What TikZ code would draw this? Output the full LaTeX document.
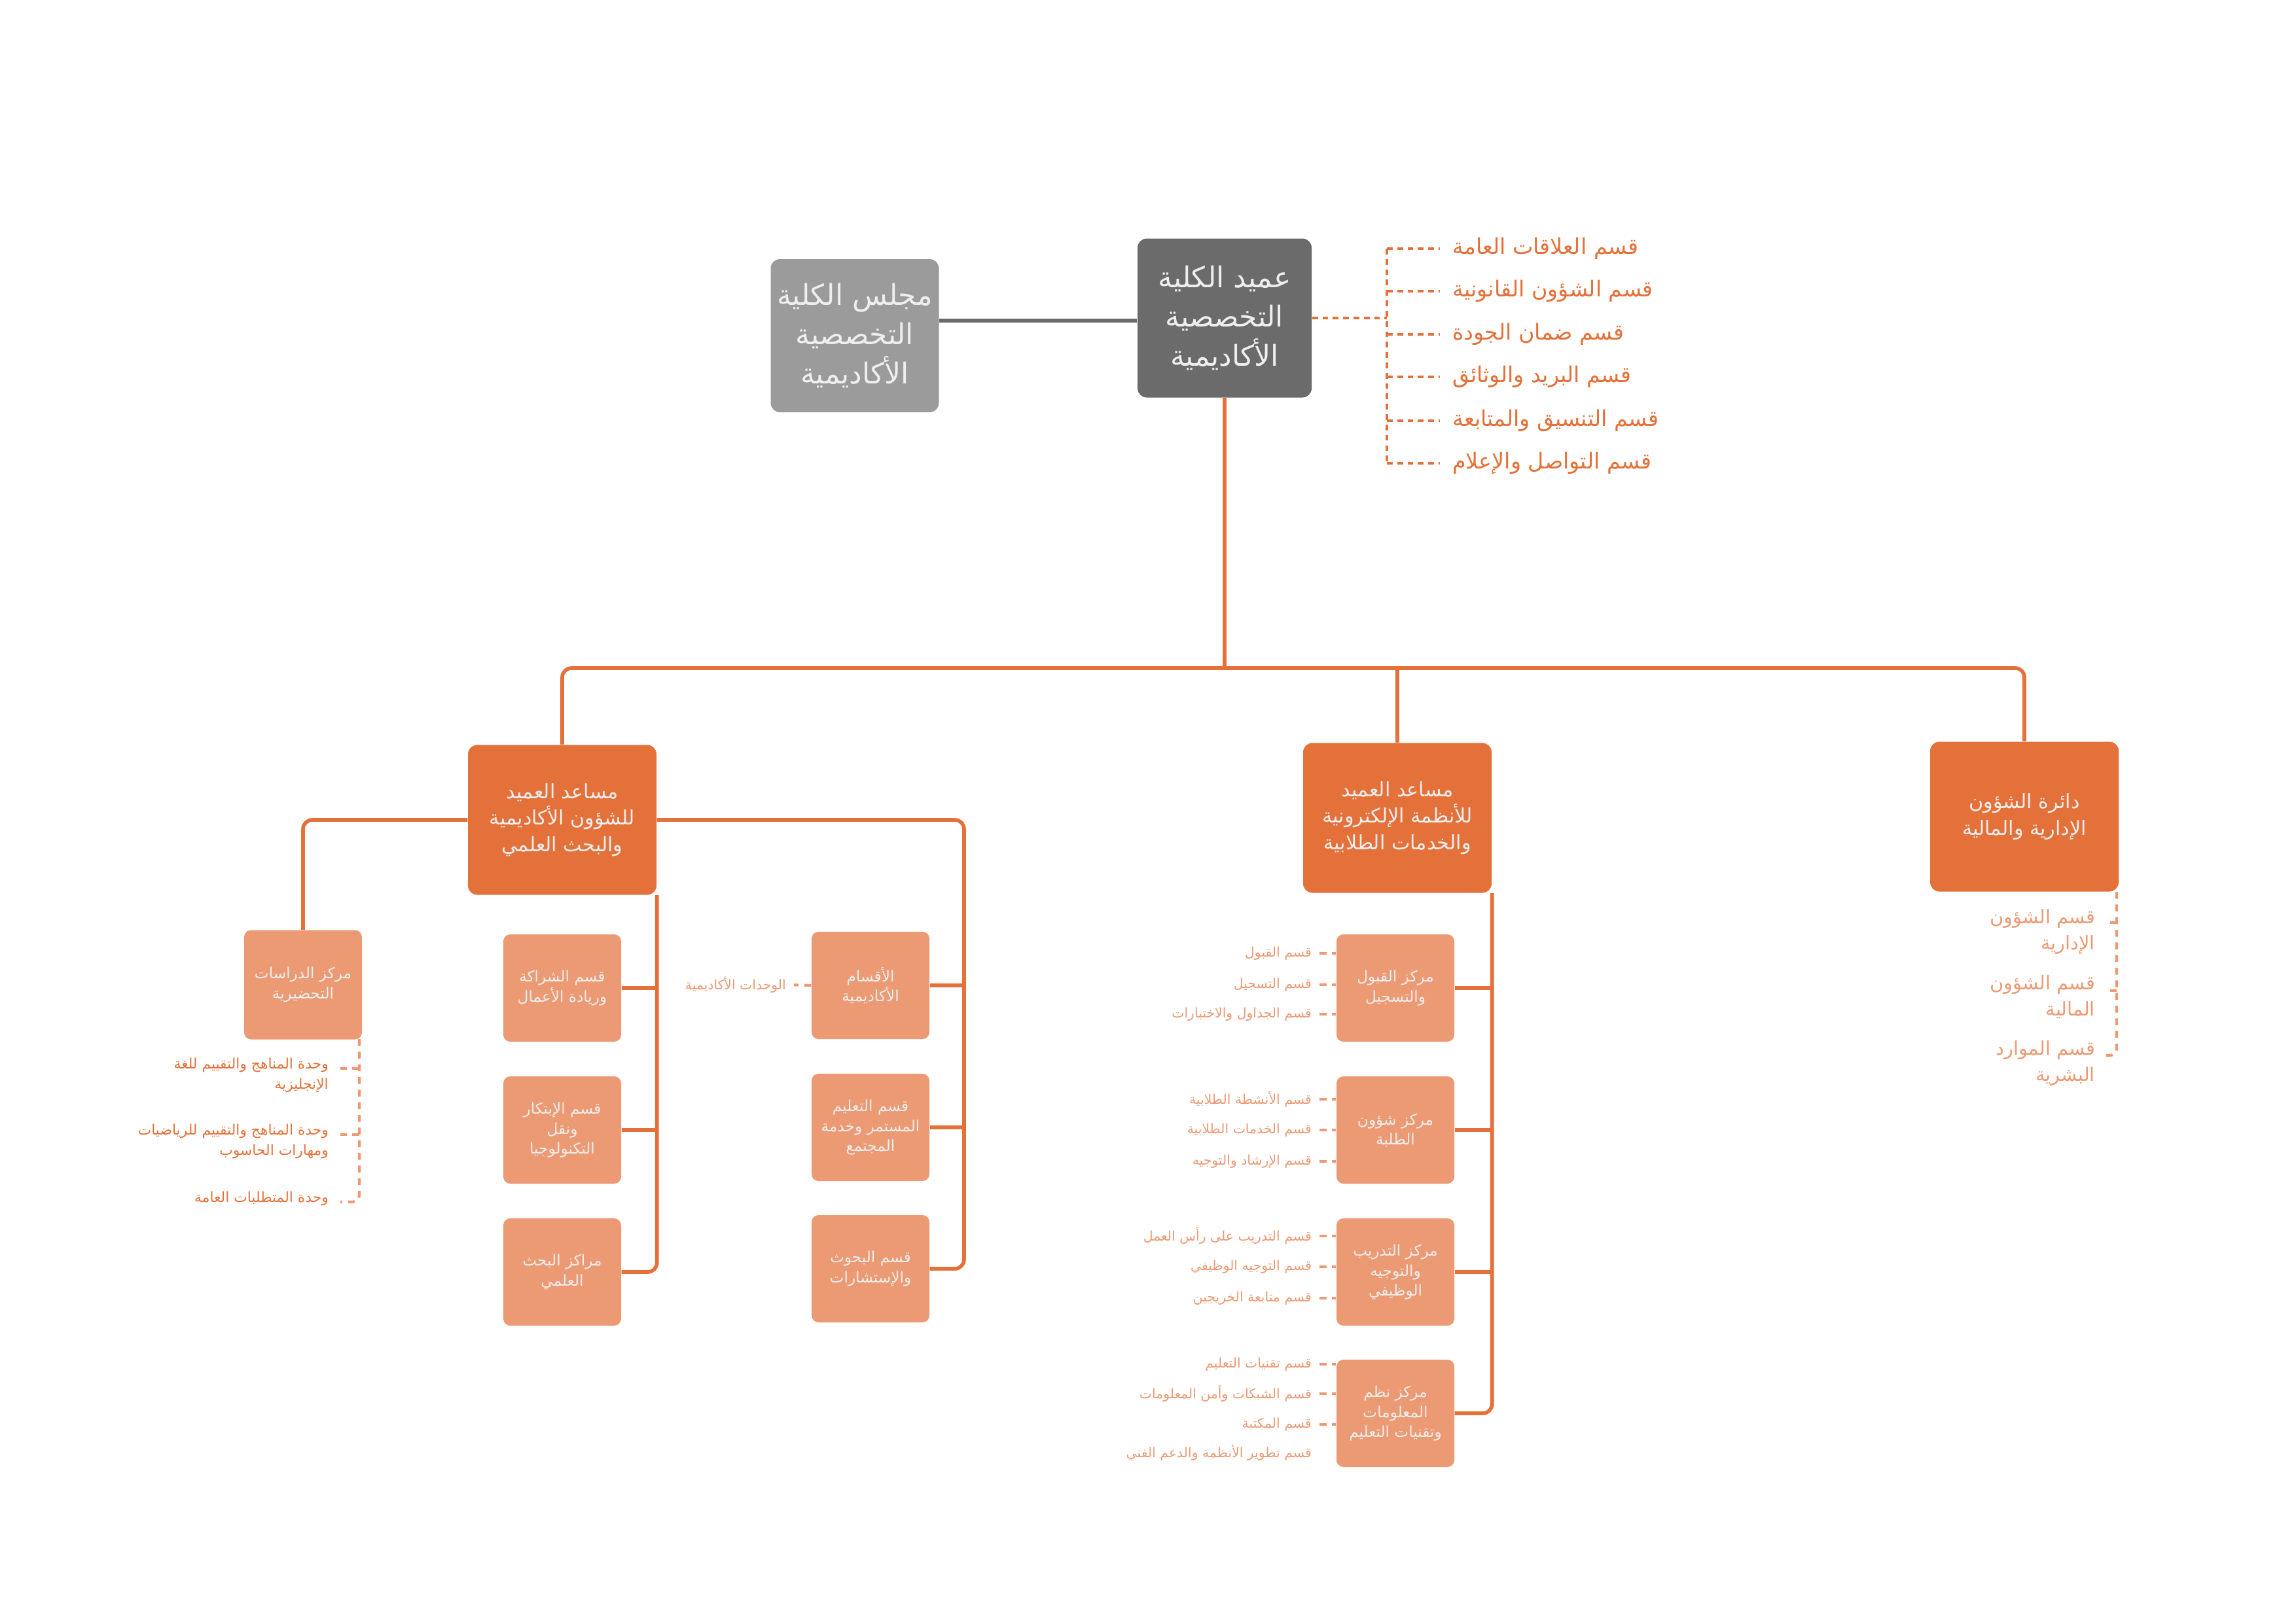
\documentclass[tikz,border=0pt]{standalone}
\usepackage{fontspec}
\newfontfamily\arabicfont[Script=Arabic]{DejaVu Sans}
\TeXXeTstate=1
\newcommand{\ar}[1]{{\arabicfont\beginR #1\endR}}
\definecolor{darkor}{HTML}{E4713A}
\definecolor{lightor}{HTML}{EC9A74}
\definecolor{darkgr}{HTML}{6B6B6B}
\definecolor{lightgr}{HTML}{9B9B9B}
\definecolor{boxtext}{HTML}{EEEEEE}
\tikzset{
  topbox/.style={rounded corners=4pt, text=boxtext, align=center, inner sep=2pt, font=\fontsize{12.5}{17}\selectfont},
  asstbox/.style={rounded corners=4pt, fill=darkor, text=boxtext, align=center, minimum width=2.88cm, minimum height=2.29cm, font=\fontsize{8.6}{11.5}\selectfont},
  unitbox/.style={rounded corners=3pt, fill=lightor, text=boxtext, align=center, minimum width=1.8cm, minimum height=1.64cm, inner sep=1pt, font=\fontsize{6.6}{8.6}\selectfont},
  link/.style={draw=darkor, line width=1.6pt},
  dotlink/.style={draw=darkor, line width=1.4pt, dash pattern=on 2.5pt off 2pt},
  dashlink/.style={draw=lightor, line width=1.2pt, dash pattern=on 3pt off 2.5pt},
  deanitem/.style={text=darkor, anchor=west, inner sep=1pt, font=\fontsize{9.5}{12}\selectfont},
  subitem/.style={text=lightor, anchor=east, inner sep=1pt, font=\fontsize{5.8}{7.5}\selectfont},
  previtem/.style={text=darkor, anchor=north east, align=right, inner sep=1pt, font=\fontsize{6.2}{8.6}\selectfont},
  admitem/.style={text=lightor, anchor=north east, align=right, inner sep=1pt, font=\fontsize{8.2}{11.5}\selectfont},
}
\begin{document}
\begin{tikzpicture}
\useasboundingbox (0,0) rectangle (35.08,-24.81);

% top level
\node[topbox, fill=lightgr, minimum width=2.57cm, minimum height=2.34cm] (council) at (13.06,-5.13)
  {\ar{مجلس الكلية}\\\ar{التخصصية}\\\ar{الأكاديمية}};
\node[topbox, fill=darkgr, minimum width=2.66cm, minimum height=2.43cm] (dean) at (18.71,-4.86)
  {\ar{عميد الكلية}\\\ar{التخصصية}\\\ar{الأكاديمية}};
\draw[draw=darkgr, line width=1.6pt] (council.east |- 0,-4.90) -- (dean.west |- 0,-4.90);

% dean sections
\coordinate (dbr) at (21.19,-4.86);
\node[deanitem] (ds1) at (22.15,-3.80) {\ar{قسم العلاقات العامة}};
\node[deanitem] (ds2) at (22.15,-4.45) {\ar{قسم الشؤون القانونية}};
\node[deanitem] (ds3) at (22.15,-5.11) {\ar{قسم ضمان الجودة}};
\node[deanitem] (ds4) at (22.15,-5.76) {\ar{قسم البريد والوثائق}};
\node[deanitem] (ds5) at (22.15,-6.43) {\ar{قسم التنسيق والمتابعة}};
\node[deanitem] (ds6) at (22.15,-7.08) {\ar{قسم التواصل والإعلام}};
\draw[dotlink] (dean.east) -- (dbr);
\draw[dotlink] (dbr |- ds1) -- (dbr |- ds6);
\foreach \i in {1,...,6}
  \draw[dotlink, shorten >=0.15cm] (dbr |- ds\i) -- (ds\i.west);

% second level
\node[asstbox] (ad1) at (8.59,-12.53)
  {\ar{مساعد العميد}\\\ar{للشؤون الأكاديمية}\\\ar{والبحث العلمي}};
\node[asstbox] (ad2) at (21.35,-12.50)
  {\ar{مساعد العميد}\\\ar{للأنظمة الإلكترونية}\\\ar{والخدمات الطلابية}};
\node[asstbox] (adm) at (30.93,-12.48)
  {\ar{دائرة الشؤون}\\\ar{الإدارية والمالية}};
\coordinate (bus) at (18.71,-10.21);
\draw[link] (dean.south) -- (bus);
\draw[link, rounded corners=4pt] (ad1.north) |- (bus) -| (adm.north);
\draw[link] (ad2.north) -- (ad2.north |- bus);

% academic affairs
\node[unitbox, minimum height=1.67cm] (prep) at (4.63,-15.05) {\ar{مركز الدراسات}\\\ar{التحضيرية}};
\node[unitbox] (lb1) at (8.59,-15.10) {\ar{قسم الشراكة}\\\ar{وريادة الأعمال}};
\node[unitbox] (lb2) at (8.59,-17.27) {\ar{قسم الإبتكار}\\\ar{ونقل}\\\ar{التكنولوجيا}};
\node[unitbox] (lb3) at (8.59,-19.44) {\ar{مراكز البحث}\\\ar{العلمي}};
\node[unitbox] (rb1) at (13.30,-15.06) {\ar{الأقسام}\\\ar{الأكاديمية}};
\node[unitbox] (rb2) at (13.30,-17.23) {\ar{قسم التعليم}\\\ar{المستمر وخدمة}\\\ar{المجتمع}};
\node[unitbox] (rb3) at (13.30,-19.39) {\ar{قسم البحوث}\\\ar{والإستشارات}};
\draw[link, rounded corners=4pt] (ad1.west) -| (prep.north);
\draw[link, rounded corners=4pt] (ad1.south east) |- (lb3.east);
\foreach \b in {lb1,lb2}
  \draw[link] (\b.east) -- (\b.east -| ad1.east);
\coordinate (rtr) at (14.73,-12.53);
\draw[link, rounded corners=4pt] (ad1.east) -- (rtr) |- (rb3.east);
\foreach \b in {rb1,rb2}
  \draw[link] (\b.east) -- (\b.east -| rtr);
\node[subitem] (unit) at (12.05,-15.05) {\ar{الوحدات الأكاديمية}};
\draw[dashlink, shorten >=0.08cm] (rb1.west) -- (unit.east);

% preparatory units
\coordinate (pbr) at (5.49,-15.88);
\node[previtem] (pu1) at (5.06,-16.13) {\ar{وحدة المناهج والتقييم للغة}\\\ar{الإنجليزية}};
\node[previtem] (pu2) at (5.06,-17.14) {\ar{وحدة المناهج والتقييم للرياضيات}\\\ar{ومهارات الحاسوب}};
\node[previtem] (pu3) at (5.06,-18.17) {\ar{وحدة المتطلبات العامة}};
\draw[dashlink, rounded corners=3pt] (pbr) -- (pbr |- 0,-18.37) -- (5.20,-18.37);
\draw[dashlink] (pbr |- 0,-16.33) -- (5.20,-16.33);
\draw[dashlink] (pbr |- 0,-17.34) -- (5.20,-17.34);

% student services
\node[unitbox] (mb1) at (21.32,-15.10) {\ar{مركز القبول}\\\ar{والتسجيل}};
\node[unitbox] (mb2) at (21.32,-17.27) {\ar{مركز شؤون}\\\ar{الطلبة}};
\node[unitbox] (mb3) at (21.32,-19.44) {\ar{مركز التدريب}\\\ar{والتوجيه}\\\ar{الوظيفي}};
\node[unitbox] (mb4) at (21.32,-21.60) {\ar{مركز نظم}\\\ar{المعلومات}\\\ar{وتقنيات التعليم}};
\draw[link, rounded corners=4pt] (ad2.south east) |- (mb4.east);
\foreach \b in {mb1,mb2,mb3}
  \draw[link] (\b.east) -- (\b.east -| ad2.east);

\node[subitem] (s11) at (20.08,-14.57) {\ar{قسم القبول}};
\node[subitem] (s12) at (20.08,-15.05) {\ar{قسم التسجيل}};
\node[subitem] (s13) at (20.08,-15.50) {\ar{قسم الجداول والاختبارات}};
\node[subitem] (s21) at (20.08,-16.80) {\ar{قسم الأنشطة الطلابية}};
\node[subitem] (s22) at (20.08,-17.27) {\ar{قسم الخدمات الطلابية}};
\node[subitem] (s23) at (20.08,-17.75) {\ar{قسم الإرشاد والتوجيه}};
\node[subitem] (s31) at (20.08,-18.89) {\ar{قسم التدريب على رأس العمل}};
\node[subitem] (s32) at (20.08,-19.36) {\ar{قسم التوجيه الوظيفي}};
\node[subitem] (s33) at (20.08,-19.84) {\ar{قسم متابعة الخريجين}};
\node[subitem] (s41) at (20.08,-20.85) {\ar{قسم تقنيات التعليم}};
\node[subitem] (s42) at (20.08,-21.30) {\ar{قسم الشبكات وأمن المعلومات}};
\node[subitem] (s43) at (20.08,-21.77) {\ar{قسم المكتبة}};
\node[subitem] (s44) at (20.08,-22.20) {\ar{قسم تطوير الأنظمة والدعم الفني}};
\foreach \s/\b in {s11/mb1,s12/mb1,s13/mb1,s21/mb2,s22/mb2,s23/mb2,s31/mb3,s32/mb3,s33/mb3,s41/mb4,s42/mb4,s43/mb4}
  \draw[dashlink, shorten <=0.08cm] (\s.east) -- (\s.east -| \b.west);

% administration
\coordinate (abr) at (32.34,-13.63);
\node[admitem] (a1) at (32.05,-13.85) {\ar{قسم الشؤون}\\\ar{الإدارية}};
\node[admitem] (a2) at (32.05,-14.86) {\ar{قسم الشؤون}\\\ar{المالية}};
\node[admitem] (a3) at (32.05,-15.86) {\ar{قسم الموارد}\\\ar{البشرية}};
\draw[dashlink, rounded corners=3pt] (abr) -- (abr |- 0,-16.13) -- (32.15,-16.13);
\draw[dashlink] (abr |- 0,-14.10) -- (32.15,-14.10);
\draw[dashlink] (abr |- 0,-15.14) -- (32.15,-15.14);
\end{tikzpicture}
\end{document}
